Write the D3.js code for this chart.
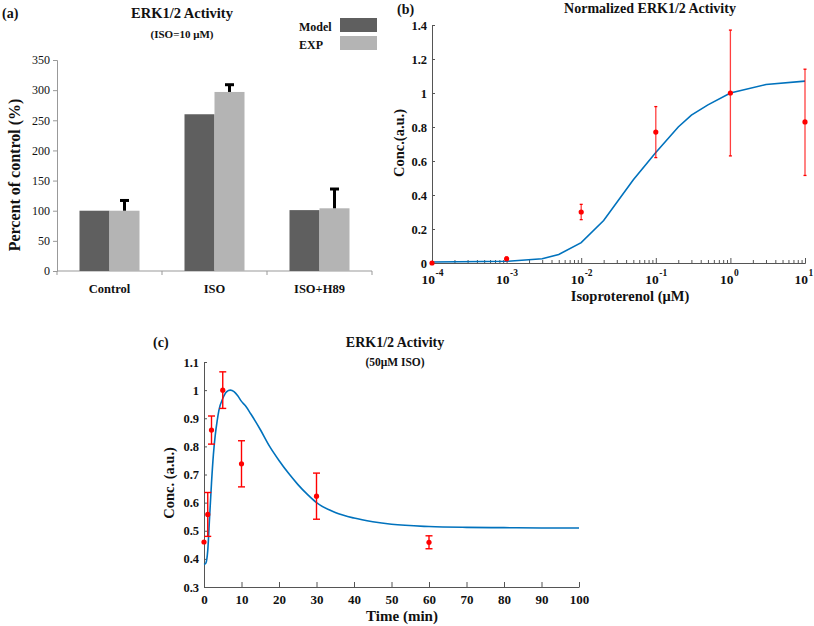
<!DOCTYPE html>
<html>
<head>
<meta charset="utf-8">
<script src="https://cdn.jsdelivr.net/npm/d3@7"></script>
<style>
  body { margin: 0; background: #fff; }
  svg, svg text { font-family: "Liberation Serif", "Times New Roman", serif; }
</style>
</head>
<body>
<div id="chart"></div>
<script>
// (a) bar chart
const aCategories = ["Control", "ISO", "ISO+H89"];
const aSeries = ["Model", "EXP"];
const aModel = [100, 260, 101];
const aExp = [100, 297, 104];
const aExpErr = [17, 12, 32];
const aTicks = [0, 50, 100, 150, 200, 250, 300, 350];

// (b) dose response
const bCurveX = [1e-4, 1e-3, 3e-3, 5e-3, 1e-2, 2e-2, 5e-2, 1e-1, 2e-1, 3e-1, 5e-1, 1, 3, 10];
const bCurveY = [0.006, 0.01, 0.025, 0.05, 0.12, 0.25, 0.49, 0.65, 0.80, 0.87, 0.93, 1.0, 1.05, 1.07];
const bExpX = [1e-4, 1e-3, 1e-2, 1e-1, 1, 10];
const bExpY = [0.0, 0.025, 0.30, 0.77, 1.0, 0.83];
const bExpLo = [0.0, 0.015, 0.255, 0.62, 0.63, 0.515];
const bExpHi = [0.0, 0.035, 0.345, 0.92, 1.37, 1.14];
const bYTicks = [0, 0.2, 0.4, 0.6, 0.8, 1, 1.2, 1.4];
const bDecades = [-4, -3, -2, -1, 0, 1];

// (c) time course
const cCurveT = [0, 0.5, 1, 1.5, 2, 2.5, 3, 3.5, 4, 5, 6, 7, 8, 9, 10, 11, 12.5, 15, 17.5, 20, 22.5, 25, 27.5, 30, 35, 40, 45, 50, 60, 70, 80, 90, 100];
const cCurveY = [0.38, 0.385, 0.43, 0.55, 0.67, 0.77, 0.84, 0.89, 0.93, 0.97, 0.994, 1.0, 0.995, 0.98, 0.96, 0.945, 0.915, 0.86, 0.80, 0.75, 0.705, 0.665, 0.63, 0.60, 0.565, 0.545, 0.532, 0.523, 0.515, 0.512, 0.511, 0.51, 0.51];
const cExpT = [0, 1, 2, 5, 10, 30, 60];
const cExpY = [0.46, 0.558, 0.858, 1.0, 0.738, 0.623, 0.459];
const cExpErr = [0, 0.078, 0.05, 0.065, 0.082, 0.082, 0.023];
const cXTicks = [0, 10, 20, 30, 40, 50, 60, 70, 80, 90, 100];
const cYTicks = [0.3, 0.4, 0.5, 0.6, 0.7, 0.8, 0.9, 1, 1.1];

const BLUE = "#0072bd";
const RED = "#ff0000";
const SERIF = "Liberation Serif";

const svg = d3.select("#chart")
  .append("svg")
  .attr("width", 814)
  .attr("height", 626);

function label(g, x, y, text, size, opts = {}) {
  return g.append("text")
    .attr("x", x)
    .attr("y", y)
    .attr("font-size", size)
    .attr("font-family", SERIF)
    .attr("font-weight", opts.weight || "bold")
    .attr("text-anchor", opts.anchor || "middle")
    .attr("fill", "#111")
    .text(text);
}

function styleAxis(ax, size, weight, stroke) {
  ax.attr("font-family", SERIF);
  ax.selectAll("text")
    .attr("font-size", size)
    .attr("font-weight", weight)
    .attr("font-family", SERIF)
    .attr("fill", "#111");
  ax.selectAll("line, path").attr("stroke", stroke);
}

// ---------- panel (a) ----------
{
  const g = svg.append("g");
  const x = d3.scaleBand().domain(aCategories).range([57, 372]);
  const inner = d3.scaleBand().domain(aSeries)
    .range([x.bandwidth() / 2 - 30, x.bandwidth() / 2 + 30]);
  const y = d3.scaleLinear().domain([0, 350]).range([271, 60]);
  const color = d3.scaleOrdinal().domain(aSeries).range(["#5f5f5f", "#b4b4b4"]);

  const yAxis = g.append("g")
    .attr("transform", "translate(57,0)")
    .call(d3.axisLeft(y).tickValues(aTicks).tickSize(4).tickPadding(3));
  styleAxis(yAxis, 12, "normal", "#999");

  const xAxis = g.append("g").attr("transform", "translate(0,271)");
  xAxis.append("line").attr("x1", 57).attr("x2", 372).attr("stroke", "#999");
  xAxis.selectAll(".sep")
    .data([0, 1, 2, 3])
    .enter()
    .append("line")
    .attr("x1", i => 57 + i * x.step())
    .attr("x2", i => 57 + i * x.step())
    .attr("y1", 0)
    .attr("y2", 4)
    .attr("stroke", "#999");
  aCategories.forEach(c => label(g, x(c) + x.bandwidth() / 2, 293, c, 12.5));

  const rows = aCategories.map((c, i) => ({ c, Model: aModel[i], EXP: aExp[i], err: aExpErr[i] }));
  const groups = g.selectAll(".grp")
    .data(rows)
    .enter()
    .append("g")
    .attr("transform", d => `translate(${x(d.c)},0)`);
  groups.selectAll("rect")
    .data(d => aSeries.map(s => ({ s, v: d[s] })))
    .enter()
    .append("rect")
    .attr("x", d => inner(d.s))
    .attr("width", inner.bandwidth())
    .attr("y", d => y(d.v))
    .attr("height", d => 271 - y(d.v))
    .attr("fill", d => color(d.s));

  // upward error bars on EXP
  const ex = d => inner("EXP") + inner.bandwidth() / 2;
  groups.append("line")
    .attr("x1", ex).attr("x2", ex)
    .attr("y1", d => y(d.EXP))
    .attr("y2", d => y(d.EXP + d.err))
    .attr("stroke", "#000")
    .attr("stroke-width", 3);
  groups.append("line")
    .attr("x1", d => ex(d) - 4.5).attr("x2", d => ex(d) + 4.5)
    .attr("y1", d => y(d.EXP + d.err))
    .attr("y2", d => y(d.EXP + d.err))
    .attr("stroke", "#000")
    .attr("stroke-width", 3);

  // legend
  aSeries.forEach((s, i) => {
    g.append("rect")
      .attr("x", 340).attr("y", 18 + i * 18)
      .attr("width", 37).attr("height", 14)
      .attr("fill", color(s));
    label(g, 299, 31 + i * 18, s, 12, { anchor: "start" });
  });

  label(g, 2, 18, "(a)", 14, { anchor: "start" });
  label(g, 182, 18, "ERK1/2 Activity", 14.5);
  label(g, 182, 38, "(ISO=10 μM)", 11);
  label(g, 0, 0, "Percent of control (%)", 16)
    .attr("transform", "translate(20,175) rotate(-90)");
}

// ---------- panel (b) ----------
{
  const g = svg.append("g");
  const x = d3.scaleLog().domain([1e-4, 10]).range([432, 805]);
  const y = d3.scaleLinear().domain([0, 1.4]).range([263, 25]);

  const minor = [];
  bDecades.slice(0, -1).forEach(e => {
    for (let k = 2; k <= 9; k++) minor.push(k * Math.pow(10, e));
  });
  const majors = bDecades.map(e => Math.pow(10, e));

  const yAxis = g.append("g")
    .attr("transform", "translate(432,0)")
    .call(d3.axisLeft(y).tickValues(bYTicks).tickSizeInner(-3).tickSizeOuter(0).tickPadding(5)
      .tickFormat(d3.format("~g")));
  styleAxis(yAxis, 12.5, "bold", "#555");

  const xMinor = g.append("g")
    .attr("transform", "translate(0,263)")
    .call(d3.axisBottom(x).tickValues(minor).tickSizeInner(-3).tickSizeOuter(0).tickFormat(""));
  styleAxis(xMinor, 12, "bold", "#555");
  const xMajor = g.append("g")
    .attr("transform", "translate(0,263)")
    .call(d3.axisBottom(x).tickValues(majors).tickSizeInner(-5).tickSizeOuter(0).tickFormat(""));
  styleAxis(xMajor, 12, "bold", "#555");
  const lbl = xMajor.selectAll(".tick")
    .append("text")
    .attr("y", 21)
    .attr("x", -11)
    .attr("text-anchor", "start")
    .attr("font-size", 13.5)
    .attr("font-weight", "bold")
    .attr("font-family", SERIF)
    .attr("fill", "#111");
  lbl.append("tspan").text("10");
  lbl.append("tspan")
    .attr("dy", -8)
    .attr("dx", 0.5)
    .attr("font-size", 9.5)
    .text(d => Math.round(Math.log10(d)));

  const line = d3.line().x(d => x(d[0])).y(d => y(d[1]));
  g.append("path")
    .datum(bCurveX.map((v, i) => [v, bCurveY[i]]))
    .attr("d", line)
    .attr("fill", "none")
    .attr("stroke", BLUE)
    .attr("stroke-width", 1.6);

  const pts = bExpX.map((v, i) => ({ x: v, y: bExpY[i], lo: bExpLo[i], hi: bExpHi[i] }));
  const eb = g.selectAll(".eb").data(pts.filter(d => d.hi > d.lo)).enter().append("g");
  eb.append("line")
    .attr("x1", d => x(d.x)).attr("x2", d => x(d.x))
    .attr("y1", d => y(d.lo)).attr("y2", d => y(d.hi))
    .attr("stroke", RED).attr("stroke-width", 1.3).attr("opacity", 0.75);
  ["lo", "hi"].forEach(k => {
    eb.append("line")
      .attr("x1", d => x(d.x) - 1.5).attr("x2", d => x(d.x) + 1.5)
      .attr("y1", d => y(d[k])).attr("y2", d => y(d[k]))
      .attr("stroke", RED).attr("stroke-width", 1.3);
  });
  g.selectAll(".dot").data(pts).enter().append("circle")
    .attr("cx", d => x(d.x)).attr("cy", d => y(d.y))
    .attr("r", 2.6).attr("fill", RED);

  label(g, 397, 14, "(b)", 14, { anchor: "start" });
  label(g, 650, 13, "Normalized ERK1/2 Activity", 14);
  label(g, 630, 301, "Isoproterenol (μM)", 14.5);
  label(g, 0, 0, "Conc.(a.u.)", 14.5)
    .attr("transform", "translate(404,143) rotate(-90)");
}

// ---------- panel (c) ----------
{
  const g = svg.append("g");
  const x = d3.scaleLinear().domain([0, 100]).range([204, 579]);
  const y = d3.scaleLinear().domain([0.3, 1.1]).range([587, 362]);

  const yAxis = g.append("g")
    .attr("transform", "translate(204,0)")
    .call(d3.axisLeft(y).tickValues(cYTicks).tickSizeInner(-3).tickSizeOuter(0).tickPadding(5)
      .tickFormat(d3.format("~g")));
  styleAxis(yAxis, 12.5, "bold", "#555");

  const xAxis = g.append("g")
    .attr("transform", "translate(0,587)")
    .call(d3.axisBottom(x).tickValues(cXTicks).tickSizeInner(-5).tickSizeOuter(0).tickPadding(8));
  styleAxis(xAxis, 13, "bold", "#555");

  const line = d3.line().x(d => x(d[0])).y(d => y(d[1])).curve(d3.curveMonotoneX);
  g.append("path")
    .datum(cCurveT.map((t, i) => [t, cCurveY[i]]))
    .attr("d", line)
    .attr("fill", "none")
    .attr("stroke", BLUE)
    .attr("stroke-width", 1.6);

  const pts = cExpT.map((t, i) => ({ t, v: cExpY[i], e: cExpErr[i] }));
  const eb = g.selectAll(".eb").data(pts.filter(d => d.e > 0)).enter().append("g");
  eb.append("line")
    .attr("x1", d => x(d.t)).attr("x2", d => x(d.t))
    .attr("y1", d => y(d.v - d.e)).attr("y2", d => y(d.v + d.e))
    .attr("stroke", RED).attr("stroke-width", 1.4);
  [-1, 1].forEach(s => {
    eb.append("line")
      .attr("x1", d => x(d.t) - 3.5).attr("x2", d => x(d.t) + 3.5)
      .attr("y1", d => y(d.v + s * d.e)).attr("y2", d => y(d.v + s * d.e))
      .attr("stroke", RED).attr("stroke-width", 1.4);
  });
  g.selectAll(".dot").data(pts).enter().append("circle")
    .attr("cx", d => x(d.t)).attr("cy", d => y(d.v))
    .attr("r", 2.6).attr("fill", RED);

  label(g, 153, 347, "(c)", 14, { anchor: "start" });
  label(g, 395, 347, "ERK1/2 Activity", 14);
  label(g, 395, 366, "(50μM ISO)", 11.5);
  label(g, 402, 621, "Time (min)", 15);
  label(g, 0, 0, "Conc. (a.u.)", 14.5)
    .attr("transform", "translate(174,483) rotate(-90)");
}
</script>
</body>
</html>
